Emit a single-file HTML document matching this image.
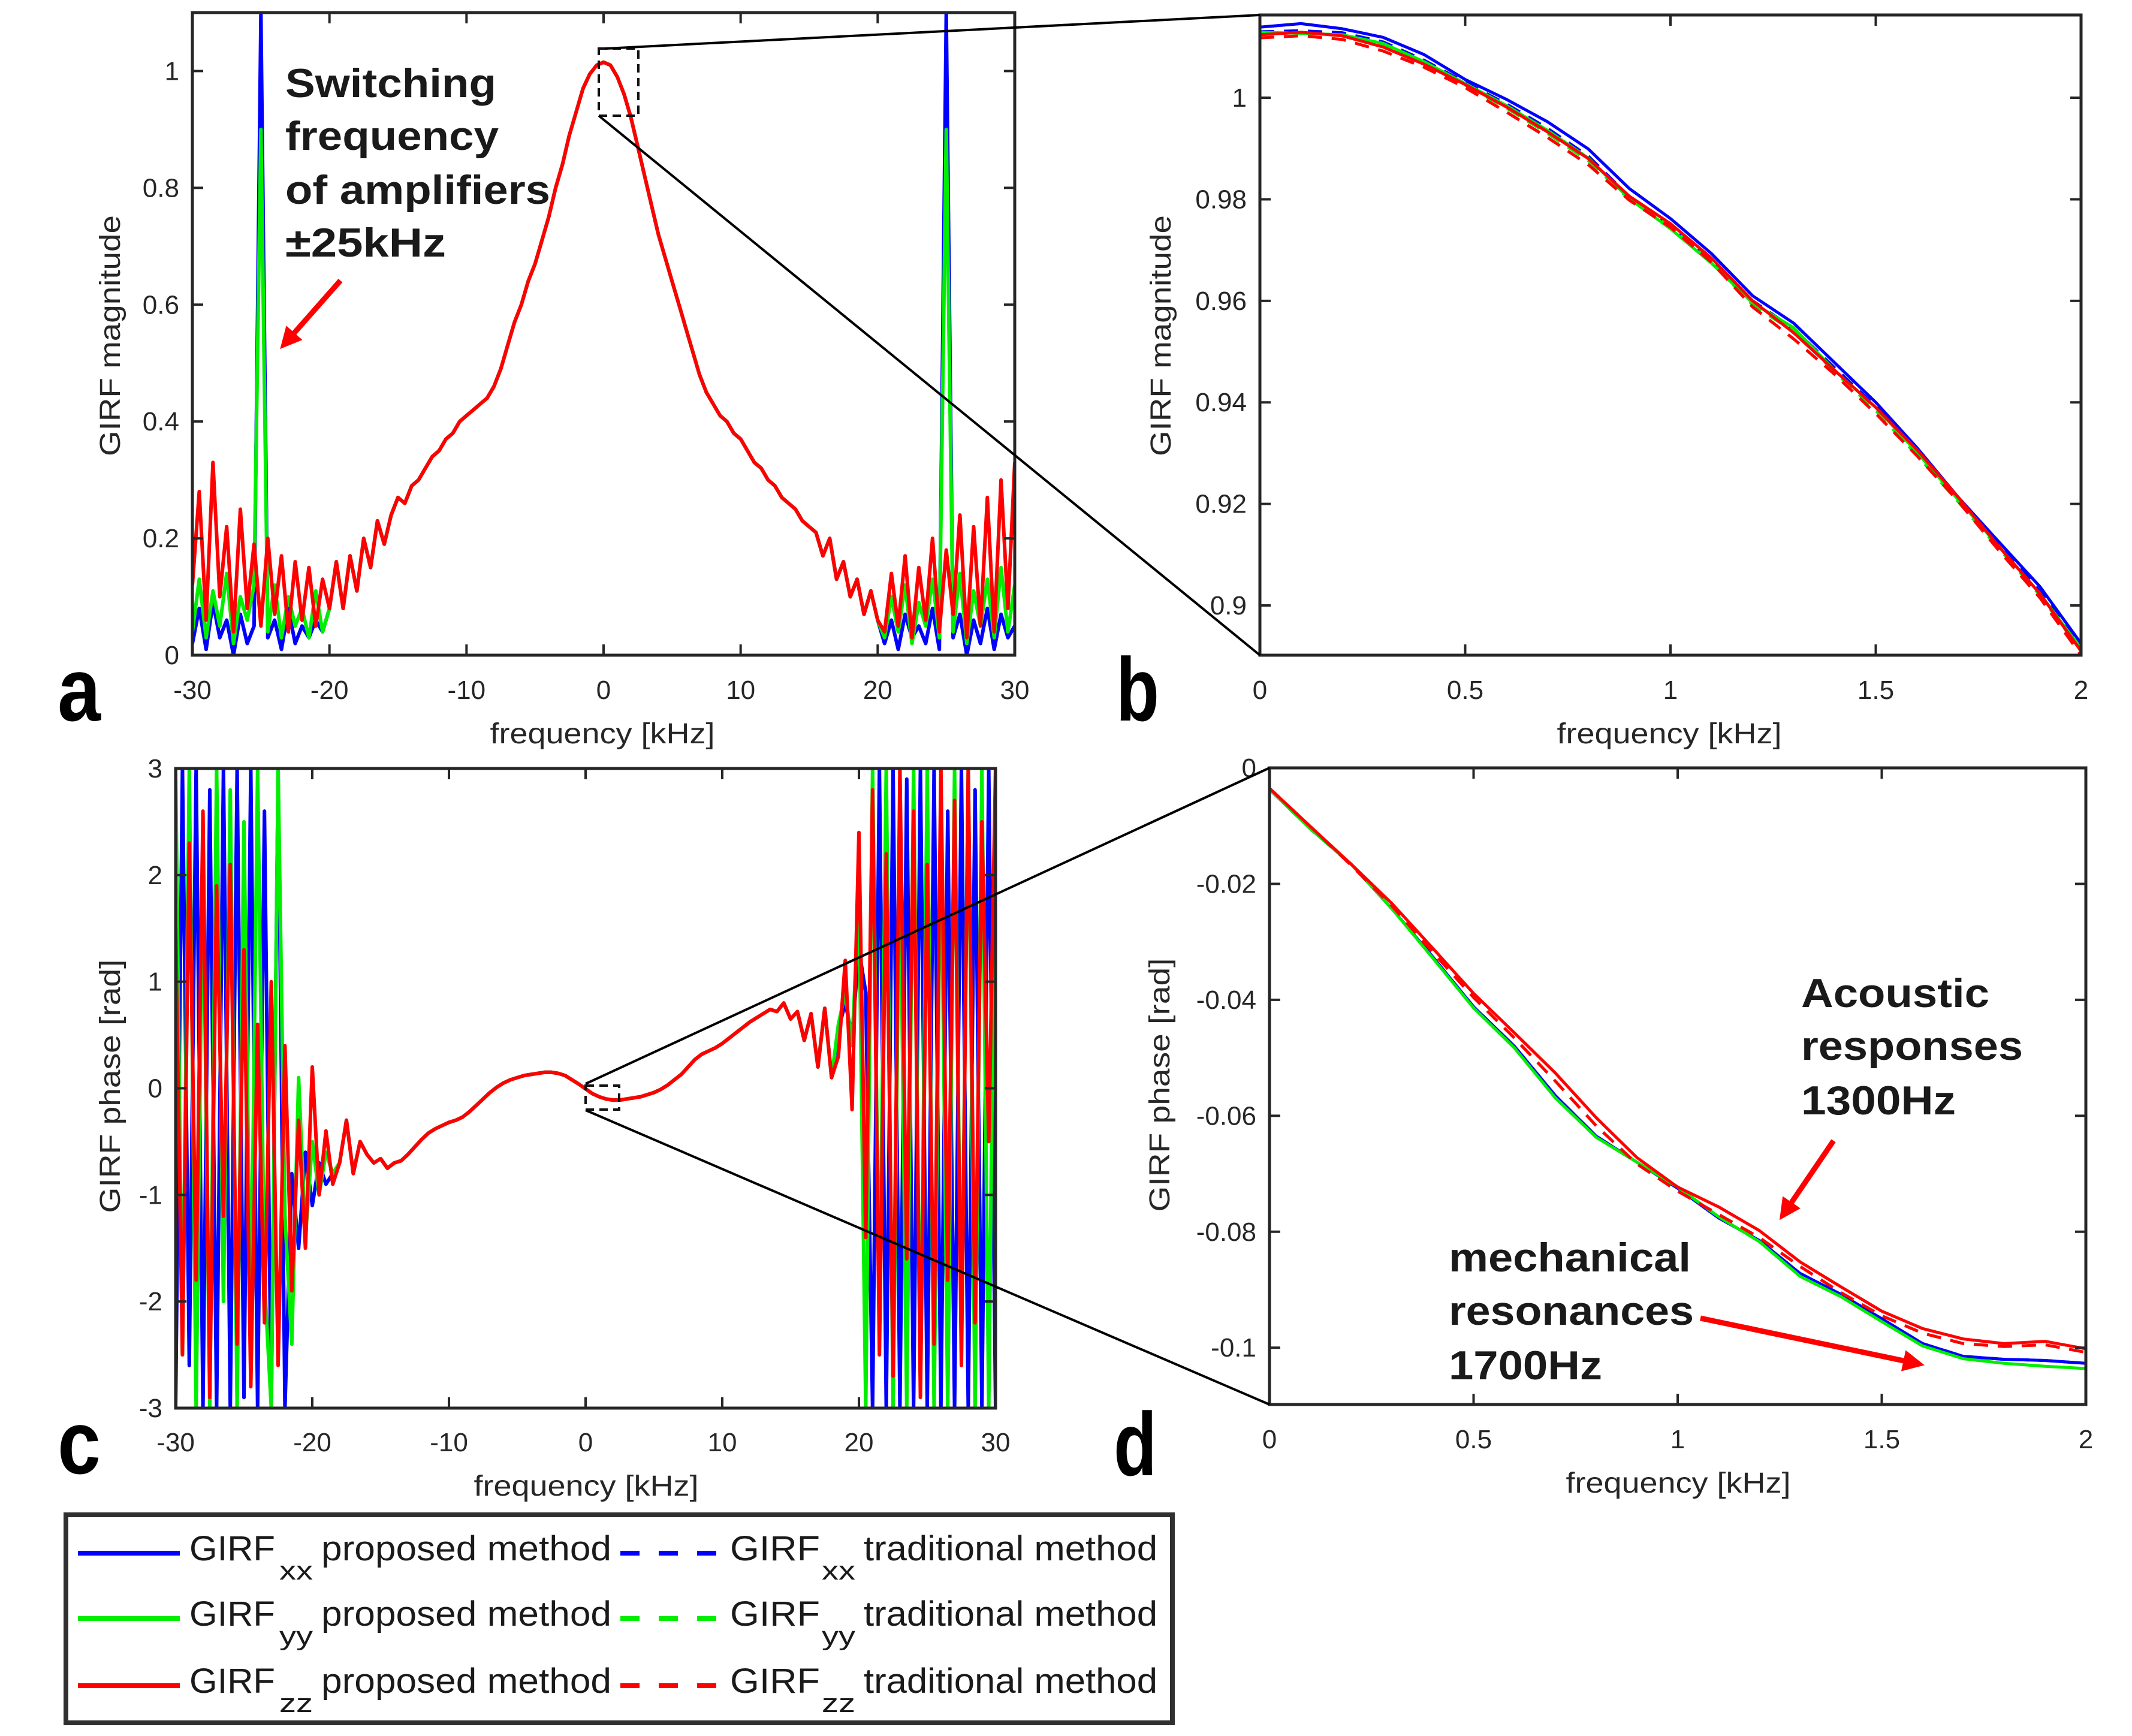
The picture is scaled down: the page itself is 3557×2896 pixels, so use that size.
<!DOCTYPE html>
<html><head><meta charset="utf-8"><style>
html,body{margin:0;padding:0;background:#fff;}
svg{display:block;font-family:"Liberation Sans",Arial,sans-serif;}
</style></head><body>
<svg id="fig" width="3557" height="2896" viewBox="0 0 3557 2896" xmlns="http://www.w3.org/2000/svg">
<rect width="3557" height="2896" fill="#fff"/>
</svg>
<script>
// ---------- DATA ----------
// Panel a: magnitude (kHz grid -30..30 step 0.5; center -20..20 shared, tails per series)
const magCenter=[0.08,0.16,0.08,0.17,0.11,0.2,0.15,0.23,0.19,0.24,0.27,0.26,0.29,0.3,0.32,0.34,0.35,0.37,0.38,0.4,0.41,0.42,0.43,0.44,0.46,0.49,0.53,0.57,0.6,0.64,0.67,0.71,0.75,0.8,0.84,0.89,0.93,0.97,0.995,1.01,1.015,1.01,0.99,0.96,0.92,0.87,0.82,0.77,0.72,0.68,0.64,0.6,0.56,0.52,0.48,0.45,0.43,0.41,0.4,0.38,0.37,0.35,0.33,0.32,0.3,0.29,0.27,0.26,0.25,0.23,0.22,0.21,0.17,0.2,0.13,0.16,0.1,0.13,0.07,0.11,0.06];
const magRedL=[0.12,0.28,0.06,0.33,0.1,0.22,0.04,0.25,0.08,0.19,0.05,0.2,0.07,0.17,0.04,0.16,0.06,0.15,0.05,0.13];
const magRedR=[0.04,0.14,0.05,0.17,0.03,0.15,0.06,0.2,0.04,0.18,0.07,0.24,0.03,0.22,0.05,0.27,0.04,0.3,0.08,0.33];
const magGreenL=[0.04,0.13,0.03,0.11,0.05,0.14,0.02,0.1,0.06,0.12,0.9,0.04,0.12,0.03,0.1,0.05,0.08,0.03,0.11,0.04];
const magGreenR=[0.03,0.1,0.04,0.12,0.02,0.09,0.05,0.13,0.03,0.9,0.04,0.14,0.02,0.11,0.05,0.13,0.03,0.15,0.04,0.12];
const magBlueL=[0.02,0.08,0.01,0.09,0.03,0.06,0.0,0.07,0.02,0.05,1.1,0.03,0.06,0.01,0.08,0.02,0.05,0.03,0.06,0.04];
const magBlueR=[0.02,0.06,0.01,0.07,0.03,0.05,0.02,0.08,0.01,1.1,0.03,0.07,0.0,0.06,0.02,0.08,0.01,0.07,0.03,0.05];
// Panel b: zoomed magnitude 0..2 kHz step 0.1
const zoomFreq=[0,0.1,0.2,0.3,0.4,0.5,0.6,0.7,0.8,0.9,1.0,1.1,1.2,1.3,1.4,1.5,1.6,1.7,1.8,1.9,2.0];
const bBlue=[1.0139,1.0146,1.0136,1.0119,1.0085,1.0036,0.9997,0.9953,0.9899,0.9821,0.9762,0.9693,0.9610,0.9556,0.9478,0.9400,0.9311,0.9214,0.9125,0.9037,0.8925];
const bBlueTrad=[1.0130,1.0132,1.0128,1.0110,1.0074,1.0030,0.9988,0.9940,0.9885,0.9805,0.9748,0.9680,0.9600,0.9545,0.9468,0.9392,0.9305,0.9210,0.9118,0.9028,0.8918];
const bGreen=[1.0129,1.0127,1.0124,1.0107,1.0071,1.0028,0.9985,0.9936,0.9881,0.9801,0.9742,0.9674,0.9596,0.9547,0.9463,0.9390,0.9302,0.9209,0.9116,0.9023,0.8915];
const bGreenTrad=[1.0126,1.0128,1.0122,1.0104,1.0068,1.0025,0.9980,0.9930,0.9876,0.9800,0.9745,0.9676,0.9592,0.9540,0.9460,0.9384,0.9296,0.9205,0.9112,0.9020,0.8910];
const bRed=[1.0124,1.0129,1.0122,1.0100,1.0066,1.0026,0.9982,0.9933,0.9880,0.9806,0.9752,0.9684,0.9600,0.9537,0.9463,0.9390,0.9307,0.9214,0.9116,0.9023,0.8910];
const bRedTrad=[1.0118,1.0122,1.0115,1.0092,1.0060,1.0020,0.9972,0.9922,0.9868,0.9798,0.9745,0.9676,0.9588,0.9525,0.9455,0.9378,0.9295,0.9206,0.9108,0.9015,0.8902];
// Panel c: phase (center -18..18 step 0.5 shared; tails 24 pts each)
const phCenter=[-0.7,-0.3,-0.8,-0.5,-0.62,-0.7,-0.66,-0.75,-0.7,-0.68,-0.62,-0.55,-0.48,-0.42,-0.38,-0.35,-0.32,-0.3,-0.27,-0.22,-0.16,-0.1,-0.04,0.01,0.05,0.08,0.1,0.12,0.13,0.14,0.15,0.15,0.14,0.12,0.08,0.04,-0.005,-0.05,-0.08,-0.1,-0.11,-0.11,-0.1,-0.09,-0.08,-0.06,-0.04,-0.01,0.03,0.08,0.13,0.2,0.27,0.32,0.35,0.38,0.42,0.47,0.52,0.57,0.62,0.66,0.7,0.74,0.72,0.8,0.65,0.72,0.45,0.7,0.2,0.75,0.1];
const phRedL=[1.5,-2.5,2.3,-1.8,2.6,-2.9,1.9,-1.2,2.1,-2.4,1.3,-2.8,0.6,-2.2,1.0,-2.6,0.4,-1.9,-0.3,-1.5,0.2,-1.0,-0.4,-0.9];
const phRedR=[0.3,1.2,-0.2,2.4,-1.4,2.8,-2.5,2.2,-2.7,3,-1.6,2.6,-2.9,2.1,-2.4,3,-1.8,2.7,-2.6,3,-2.2,2.5,-0.5,3];
const phGreenL=[3,-2.5,3,-3,2.2,-3,3,-2,2.8,-3,2.5,-2.3,3,-1.8,-3,3,-1.2,-2.4,0.1,-1.4,-0.5,-1.0,-0.6,-0.8];
const phGreenR=[0.6,0.9,0.4,1.8,-3,3,-2.2,3,-3,2.4,-3,3,-2.8,3,-3,2.6,-3,3,-2.5,3,-3,3,-3,3];
const phBlueL=[-3,3,-2.6,3,-3,2.8,-3,3,-3,3,-2.9,3,-3,2.6,-3,3,-3,-0.8,-1.5,-0.6,-1.1,-0.7,-0.9,-0.8];
const phBlueR=[0.55,0.8,0.5,1.3,0.9,-3,3,-3,3,-3,2.9,-3,3,-3,3,-3,2.6,-3,3,-3,2.8,-3,3,-3];
// Panel d: zoomed phase 0..2 kHz
const dGreen=[-0.0037,-0.0105,-0.0166,-0.0243,-0.0328,-0.0414,-0.0483,-0.0569,-0.0637,-0.068,-0.0723,-0.0774,-0.0817,-0.0877,-0.0912,-0.0955,-0.0997,-0.1019,-0.1027,-0.1032,-0.1036];
const dBlue=[-0.0037,-0.0105,-0.0166,-0.0243,-0.0326,-0.0412,-0.0480,-0.0565,-0.0635,-0.0680,-0.0725,-0.0776,-0.0815,-0.0872,-0.0908,-0.0950,-0.0993,-0.1015,-0.1020,-0.1022,-0.1027];
const dRed=[-0.0035,-0.0101,-0.0166,-0.0234,-0.0311,-0.0389,-0.0457,-0.0526,-0.0603,-0.0672,-0.0723,-0.0757,-0.0798,-0.0852,-0.0895,-0.0937,-0.0967,-0.0985,-0.0993,-0.0989,-0.1002];
const dRedTrad=[-0.0035,-0.0101,-0.0168,-0.0238,-0.0318,-0.0396,-0.0466,-0.0540,-0.0617,-0.0683,-0.0730,-0.0770,-0.0810,-0.0860,-0.0905,-0.0945,-0.0975,-0.0993,-0.0998,-0.0995,-0.1008];
// tick labels
const wideTicks=[-30,-20,-10,0,10,20,30];
const zoomTicks=[0,0.5,1,1.5,2];
const magTicks=[0,0.2,0.4,0.6,0.8,1];
const bTicks=[0.9,0.92,0.94,0.96,0.98,1];
const phTicks=[-3,-2,-1,0,1,2,3];
const dTicks=[0,-0.02,-0.04,-0.06,-0.08,-0.1];

// ---------- HELPERS ----------
const NS='http://www.w3.org/2000/svg';
const svg=document.getElementById('fig');
function mk(tag,attrs,parent){const e=document.createElementNS(NS,tag);for(const k in attrs)e.setAttribute(k,attrs[k]);(parent||svg).appendChild(e);return e;}
function grid(a,b,step){const g=[];for(let v=a;v<=b+1e-9;v+=step)g.push(Math.round(v*100)/100);return g;}
const BLUE='#0000ff',GREEN='#00ee00',RED='#ff0000',AX='#262626';

const P={
 a:{x0:321,x1:1693,y0:21,y1:1093,xmin:-30,xmax:30,ymin:0,ymax:1.1},
 b:{x0:2102,x1:3472,y0:25,y1:1093,xmin:0,xmax:2,ymin:0.8902,ymax:1.0163},
 c:{x0:293,x1:1661,y0:1282,y1:2349,xmin:-30,xmax:30,ymin:-3,ymax:3},
 d:{x0:2118,x1:3480,y0:1281,y1:2343,xmin:0,xmax:2,ymin:-0.1098,ymax:0}
};
function sx(p,v){return p.x0+(v-p.xmin)/(p.xmax-p.xmin)*(p.x1-p.x0);}
function sy(p,v){return p.y1-(v-p.ymin)/(p.ymax-p.ymin)*(p.y1-p.y0);}

const defs=mk('defs',{});
['a','b','c','d'].forEach(k=>{const p=P[k];const cp=mk('clipPath',{id:'clip-'+k},defs);mk('rect',{x:p.x0,y:p.y0,width:p.x1-p.x0,height:p.y1-p.y0},cp);});

function series(k,xs,ys,color,dash,w){
 const p=P[k];let d='';
 for(let i=0;i<xs.length&&i<ys.length;i++){d+=(i?'L':'M')+sx(p,xs[i]).toFixed(1)+','+sy(p,ys[i]).toFixed(1);}
 const el=mk('path',{d:d,fill:'none',stroke:color,'stroke-width':w||6,'stroke-linejoin':'round','clip-path':'url(#clip-'+k+')'});
 if(dash)el.setAttribute('stroke-dasharray',dash);
 
 
 return el;
}
function text(str,x,y,size,attrs){const t=mk('text',Object.assign({x:x,y:y,'font-size':size,fill:'#262626'},attrs||{}));t.textContent=str;return t;}

function axes(k,xt,yt,xfmt,yfmt){
 const p=P[k];
 const g=mk('g',{});
 
 
 const tl=18;
 xt.forEach(v=>{const x=sx(p,v);
  mk('line',{x1:x,x2:x,y1:p.y1,y2:p.y1-tl,stroke:AX,'stroke-width':4},g);
  mk('line',{x1:x,x2:x,y1:p.y0,y2:p.y0+tl,stroke:AX,'stroke-width':4},g);
  const t=text(xfmt(v),x,(k==='a'||k==='b')?1166:(k==='c'?2421:2416),44,{'text-anchor':'middle'});
  
  
 });
 yt.forEach(v=>{const y=sy(p,v);
  mk('line',{x1:p.x0,x2:p.x0+tl,y1:y,y2:y,stroke:AX,'stroke-width':4},g);
  mk('line',{x1:p.x1,x2:p.x1-tl,y1:y,y2:y,stroke:AX,'stroke-width':4},g);
  const t=text(yfmt(v),p.x0-22,y+15,44,{'text-anchor':'end'});
  
  
 });
 const box=mk('rect',{x:p.x0,y:p.y0,width:p.x1-p.x0,height:p.y1-p.y0,fill:'none',stroke:AX,'stroke-width':5},g);
 
 
}
const fmt=v=>String(v);

// ---------- PANEL A ----------
const magX=grid(-30,30,0.5);
const magBlue=magBlueL.concat(magCenter,magBlueR);
const magGreen=magGreenL.concat(magCenter,magGreenR);
const magRed=magRedL.concat(magCenter,magRedR);
series('a',magX,magBlue,BLUE,null,6);
series('a',magX,magGreen,GREEN,null,6);
series('a',magX,magRed,RED,null,6);
axes('a',wideTicks,magTicks,fmt,fmt);

// ---------- PANEL B ----------
series('b',zoomFreq,bBlueTrad,BLUE,'24 16',5);
series('b',zoomFreq,bGreenTrad,GREEN,'24 16',5);
series('b',zoomFreq,bBlue,BLUE,null,5);
series('b',zoomFreq,bGreen,GREEN,null,5);
series('b',zoomFreq,bRedTrad,RED,'24 16',5);
series('b',zoomFreq,bRed,RED,null,5);
axes('b',zoomTicks,bTicks,fmt,fmt);

// ---------- PANEL C ----------
const phX=grid(-30,30,0.5);
const phBlue=phBlueL.concat(phCenter,phBlueR);
const phGreen=phGreenL.concat(phCenter,phGreenR);
const phRed=phRedL.concat(phCenter,phRedR);
series('c',phX,phBlue,BLUE,null,6);
series('c',phX,phGreen,GREEN,null,6);
series('c',phX,phRed,RED,null,6);
axes('c',wideTicks,phTicks,fmt,fmt);

// ---------- PANEL D ----------
series('d',zoomFreq,dBlue,BLUE,'24 16',5);
series('d',zoomFreq,dBlue,BLUE,null,5);
series('d',zoomFreq,dGreen,GREEN,null,5);
series('d',zoomFreq,dRedTrad,RED,'24 16',5);
series('d',zoomFreq,dRed,RED,null,5);
axes('d',zoomTicks,dTicks,fmt,fmt);

// ---------- AXIS TITLES ----------
function xtitle(x,y){const t=text('frequency [kHz]',x,y,48,{'text-anchor':'middle',textLength:375,lengthAdjust:'spacingAndGlyphs'});
 
 }
xtitle(1005,1240);xtitle(2785,1240);xtitle(978,2495);xtitle(2800,2490);
function ytitle(str,x,y,len){const t=text(str,x,y,48,{'text-anchor':'middle',transform:'rotate(-90 '+x+' '+y+')',textLength:len,lengthAdjust:'spacingAndGlyphs'});
 
 }
ytitle('GIRF magnitude',200,560,402);
ytitle('GIRF magnitude',1953,560,402);
ytitle('GIRF phase [rad]',200,1812,423);
ytitle('GIRF phase [rad]',1951,1810,423);

// ---------- ZOOM INDICATORS ----------
function zbox(x,y,w,h){const r=mk('rect',{x:x,y:y,width:w,height:h,fill:'none',stroke:'#111','stroke-width':4,'stroke-dasharray':'14 9'});
 
 }
function zline(x1,y1,x2,y2){const l=mk('line',{x1:x1,y1:y1,x2:x2,y2:y2,stroke:'#000','stroke-width':4});
 
 }
zbox(999,81,66,112);
zline(1010,81,2102,25);zline(999,193,2102,1093);
zbox(977,1811,56,40);
zline(977,1808,2118,1281);zline(977,1852,2118,2343);

// ---------- ANNOTATIONS ----------
function ann(str,x,y,len){const t=text(str,x,y,68,{'font-weight':'bold',fill:'#1a1a1a',textLength:len,lengthAdjust:'spacingAndGlyphs'});
 
 }
ann('Switching',476,162,352);
ann('frequency',476,250,356);
ann('of amplifiers',476,340,442);
ann('±25kHz',476,428,268);
ann('Acoustic',3005,1680,314);
ann('responses',3005,1768,370);
ann('1300Hz',3005,1859,258);
ann('mechanical',2417,2121,404);
ann('resonances',2417,2210,409);
ann('1700Hz',2417,2301,256);
mk('marker',{id:'arrowhead',markerWidth:4,markerHeight:4,refX:2.2,refY:2,orient:'auto',markerUnits:'strokeWidth'},defs);
mk('path',{d:'M0,0 L4,2 L0,4 z',fill:RED},document.getElementById('arrowhead'));
function arrow(x1,y1,x2,y2){const l=mk('line',{x1:x1,y1:y1,x2:x2,y2:y2,stroke:RED,'stroke-width':9,'marker-end':'url(#arrowhead)'});
 
 }
arrow(568,468,478,570);
arrow(3059,1903,2978,2022);
arrow(2837,2199,3195,2274);

// ---------- PANEL LETTERS ----------
function letter(s,x,y){const t=text(s,x,y,150,{'font-weight':'bold',fill:'#000',textLength:72,lengthAdjust:'spacingAndGlyphs'});
 
 }
letter('a',96,1202);letter('b',1862,1202);letter('c',96,2458);letter('d',1858,2461);

// ---------- LEGEND ----------
const lg=mk('g',{});


const lbox=mk('rect',{x:110,y:2527,width:1846,height:347,fill:'#fff',stroke:'#303030','stroke-width':8},lg);


const legColors=[BLUE,GREEN,RED];
const legSubs=['xx','yy','zz'];
const rowY=[2591,2700,2812];
for(let i=0;i<3;i++){
 const y=rowY[i];
 const e=mk('g',{},lg);
 
 
 mk('line',{x1:130,x2:300,y1:y,y2:y,stroke:legColors[i],'stroke-width':8},e);
 mk('line',{x1:1035,x2:1205,y1:y,y2:y,stroke:legColors[i],'stroke-width':8,'stroke-dasharray':'32 32'},e);
 const bl=y+12;
 const t1=text('GIRF',316,bl,58,{fill:'#1a1a1a',textLength:143,lengthAdjust:'spacingAndGlyphs'});e.appendChild(t1);
 const s1=text(legSubs[i],466,bl+32,44,{fill:'#1a1a1a',textLength:56,lengthAdjust:'spacingAndGlyphs'});e.appendChild(s1);
 const p1=text('proposed method',536,bl,58,{fill:'#1a1a1a',textLength:484,lengthAdjust:'spacingAndGlyphs'});e.appendChild(p1);
 const t2=text('GIRF',1218,bl,58,{fill:'#1a1a1a',textLength:150,lengthAdjust:'spacingAndGlyphs'});e.appendChild(t2);
 const s2=text(legSubs[i],1371,bl+32,44,{fill:'#1a1a1a',textLength:56,lengthAdjust:'spacingAndGlyphs'});e.appendChild(s2);
 const p2=text('traditional method',1441,bl,58,{fill:'#1a1a1a',textLength:490,lengthAdjust:'spacingAndGlyphs'});e.appendChild(p2);
}
</script>
</body></html>
